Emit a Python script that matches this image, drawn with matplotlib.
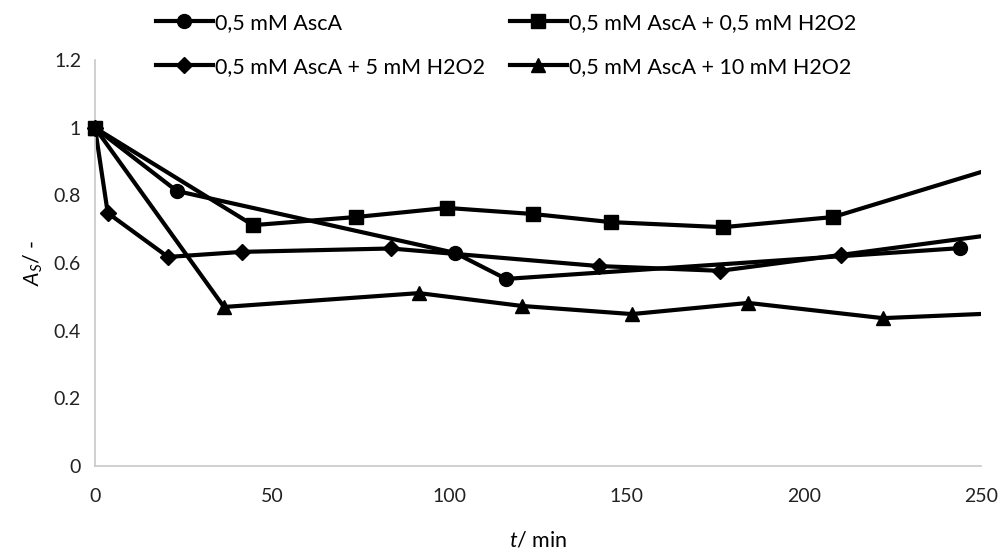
import matplotlib
matplotlib.use("Agg")
import matplotlib.pyplot as plt
from matplotlib.ticker import FuncFormatter
from matplotlib.lines import Line2D

plt.rcParams['font.family'] = ['Lato', 'DejaVu Sans']
plt.rcParams['mathtext.fontset'] = 'custom'
plt.rcParams['mathtext.rm'] = 'Lato'
plt.rcParams['mathtext.it'] = 'Lato:italic'

# Data
t_asca = [0, 23.1, 101.6, 116, 244]
a_asca = [1.0, 0.813, 0.63, 0.553, 0.644]

t_h05 = [0, 44.6, 73.6, 99.3, 123.6, 145.6, 177.2, 208.3, 265]
a_h05 = [1.0, 0.712, 0.736, 0.763, 0.745, 0.721, 0.706, 0.736, 0.917]

t_h5 = [0, 3.6, 20.6, 41.5, 83.5, 142.2, 176.4, 210.5, 265]
a_h5 = [1.0, 0.748, 0.618, 0.633, 0.643, 0.591, 0.577, 0.624, 0.70]

t_h10 = [0, 36.4, 91.4, 120.5, 151.5, 184.3, 222.3, 265]
a_h10 = [1.0, 0.47, 0.511, 0.473, 0.449, 0.482, 0.437, 0.456]

labels = ['0,5 mM AscA', '0,5 mM AscA + 0,5 mM H2O2',
          '0,5 mM AscA + 5 mM H2O2', '0,5 mM AscA + 10 mM H2O2']
x_ticks = [0, 50, 100, 150, 200, 250]
y_ticks = [0, 0.2, 0.4, 0.6, 0.8, 1.0, 1.2]
X_MAX = 250

fig = plt.figure(figsize=(10, 5.52), dpi=100)
ax = fig.add_axes([0.095, 0.156, 0.886, 0.735])

lw = 3.0
series = [
    (t_asca, a_asca, 'o', 10),
    (t_h10, a_h10, '^', 10),
    (t_h5, a_h5, 'D', 8),
    (t_h05, a_h05, 's', 10),
]
handles = {}
for ts, ys, mk, ms in series:
    ax.plot(ts, ys, color='black', lw=lw, solid_joinstyle='miter')
    idx = [i for i, t in enumerate(ts) if t <= X_MAX]
    ax.plot(ts, ys, ls='none', marker=mk, ms=ms, color='black',
            markevery=idx, clip_on=False, zorder=3)
    handles[mk] = Line2D([], [], color='black', lw=lw, marker=mk, ms=ms)

ax.set_xlim(0, X_MAX)
ax.set_ylim(0, 1.2)
ax.set_xticks(x_ticks)
ax.set_yticks(y_ticks)
ax.yaxis.set_major_formatter(FuncFormatter(lambda v, p: f"{v:g}"))
ax.tick_params(length=0, labelsize=14, colors='#222222', pad=10)
ax.tick_params(axis='x', pad=16)
for s in ['top', 'right']:
    ax.spines[s].set_visible(False)
for s in ['left', 'bottom']:
    ax.spines[s].set_color('#c8c8c8')
    ax.spines[s].set_linewidth(1.2)

ax.set_xlabel(r'$\mathit{t}$/ min', fontsize=15.5, labelpad=18)
ax.set_ylabel(r'$\mathit{A}_{\mathit{S}}$/ -', fontsize=15.5, labelpad=6)

fig.legend([handles['o'], handles['D'], handles['s'], handles['^']],
           [labels[0], labels[2], labels[1], labels[3]],
           ncol=2, loc='upper left', bbox_to_anchor=(0.143, 1.0),
           frameon=False, fontsize=15.5, handlelength=2.65, handletextpad=0.1,
           labelspacing=1.1, columnspacing=1.15, borderaxespad=0.2)

fig.savefig('out.png', dpi=100)
